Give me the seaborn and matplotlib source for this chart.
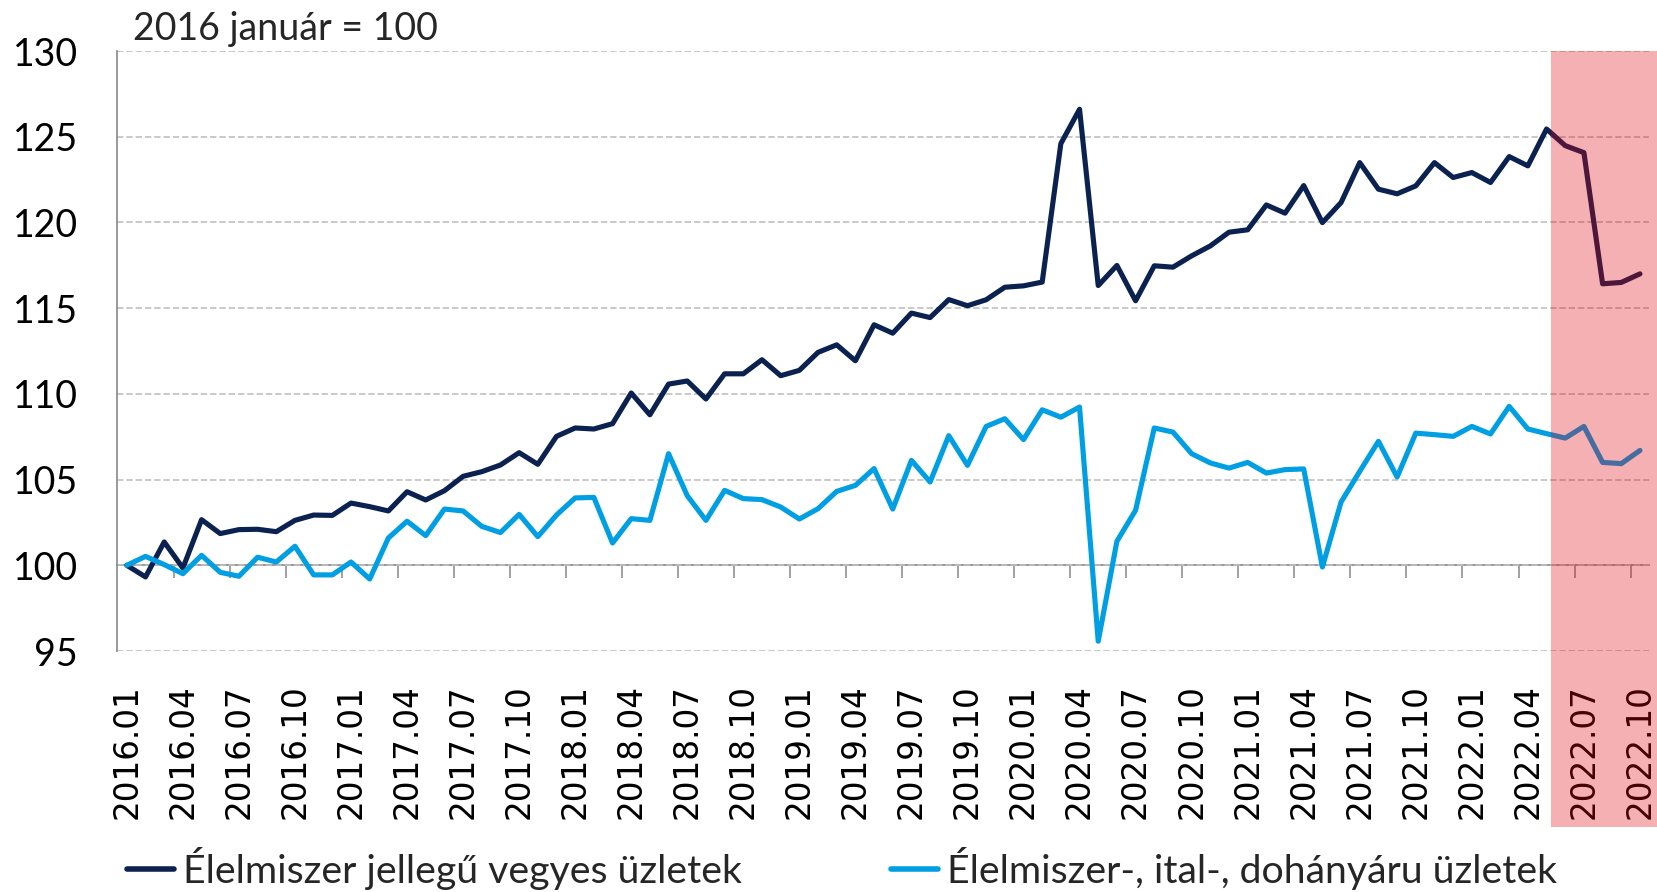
import numpy as np
import pandas as pd
import matplotlib
matplotlib.use("Agg")
import matplotlib.pyplot as plt
import seaborn as sns
from matplotlib.patches import Rectangle
from matplotlib.lines import Line2D

# ---------------- data ----------------
months = [f"{y}.{m:02d}" for y in range(2016, 2023) for m in range(1, 13)][:82]

vegyes = [100.0, 99.32, 101.36, 99.84, 102.66, 101.85, 102.08, 102.10, 101.96, 102.62,
          102.93, 102.91, 103.63, 103.42, 103.17, 104.29, 103.81, 104.35, 105.19, 105.46,
          105.85, 106.57, 105.89, 107.52, 108.01, 107.95, 108.26, 110.05, 108.78, 110.57,
          110.75, 109.70, 111.17, 111.17, 111.99, 111.06, 111.37, 112.42, 112.86, 111.93,
          114.03, 113.54, 114.71, 114.45, 115.50, 115.14, 115.49, 116.22, 116.30, 116.52,
          124.60, 126.60, 116.32, 117.49, 115.43, 117.47, 117.39, 118.05, 118.63, 119.43,
          119.57, 121.02, 120.54, 122.15, 119.99, 121.16, 123.49, 121.94, 121.67, 122.13,
          123.49, 122.62, 122.91, 122.33, 123.84, 123.30, 125.45, 124.48, 124.07, 116.42,
          116.50, 117.00]

elelmiszer = [100.0, 100.52, 100.04, 99.51, 100.58, 99.59, 99.36, 100.47, 100.19, 101.11,
              99.44, 99.44, 100.19, 99.20, 101.59, 102.57, 101.73, 103.28, 103.17, 102.27,
              101.91, 102.97, 101.67, 102.93, 103.93, 103.96, 101.30, 102.72, 102.62, 106.51,
              104.06, 102.62, 104.37, 103.89, 103.83, 103.40, 102.70, 103.30, 104.31, 104.66,
              105.64, 103.28, 106.12, 104.86, 107.56, 105.83, 108.10, 108.55, 107.33, 109.07,
              108.64, 109.23, 95.57, 101.40, 103.21, 108.01, 107.77, 106.51, 105.97, 105.67,
              106.00, 105.38, 105.58, 105.62, 99.90, 103.69, 105.48, 107.23, 105.15, 107.71,
              107.62, 107.52, 108.10, 107.66, 109.27, 107.95, 107.68, 107.42, 108.10, 106.00,
              105.93, 106.70]

series_names = ["Élelmiszer jellegű vegyes üzletek", "Élelmiszer-, ital-, dohányáru üzletek"]
series_colors = ["#0B2250", "#009FE3"]
y_ticks = [95, 100, 105, 110, 115, 120, 125, 130]
title_text = "2016 január = 100"
highlight_start = 76.23   # shaded period (from 2022.06)

# ---------------- figure ----------------
sns.set_style("white")
plt.rcParams["font.family"] = ["Lato", "DejaVu Sans"]
plt.rcParams["lines.scale_dashes"] = False

W, H = 1658, 892
fig = plt.figure(figsize=(W / 100, H / 100), dpi=100)
ax = fig.add_axes([117.5 / W, 1 - 651 / H, (1649.3 - 117.5) / W, 600 / H])

n = len(months)
idx = np.arange(n)
df = pd.DataFrame({
    "idx": np.concatenate([idx, idx]),
    "value": np.concatenate([vegyes, elelmiszer]),
    "series": [series_names[0]] * n + [series_names[1]] * n,
})

sns.lineplot(data=df, x="idx", y="value", hue="series", hue_order=series_names,
             palette=series_colors, linewidth=3.7, ax=ax, legend=False, zorder=3,
             solid_joinstyle="round", solid_capstyle="round")

ymin, ymax = y_ticks[0], y_ticks[-1]
ax.set_xlim(-0.5, n - 0.5)
ax.set_ylim(ymin, ymax)
ax.set_xlabel("")
ax.set_ylabel("")

# y axis
gray = "#878787"
ax.set_yticks(y_ticks)
ax.set_yticklabels([str(v) for v in y_ticks], fontsize=27, color="black")
ax.tick_params(axis="y", direction="out", length=9.4, width=1.1, color=gray, pad=19)
ax.yaxis.grid(True, linestyle=(0, (4.6, 2.1)), color="#C0C0C0", linewidth=1.2)
ax.set_axisbelow(True)
for s in ["top", "right", "bottom"]:
    ax.spines[s].set_visible(False)
ax.spines["left"].set_color(gray)
ax.spines["left"].set_linewidth(1.2)

# x labels at bottom (low position)
lab_pos = idx[::3]
ax.set_xticks(lab_pos)
ax.set_xticklabels([months[i] for i in lab_pos], rotation=90, fontsize=23.5,
                   family="DejaVu Sans", color="black")
ax.tick_params(axis="x", length=0, pad=24)

# category axis crossing at 100 with tick marks between categories
sec = ax.secondary_xaxis((100 - ymin) / (ymax - ymin))
sec.set_xticks(np.arange(2.5, n - 1, 3))
sec.tick_params(axis="x", direction="out", length=9.2, width=1.1, color=gray,
                labelbottom=False, labeltop=False)
sec.spines["bottom"].set_color(gray)
sec.spines["bottom"].set_linewidth(1.2)

# title
fig.text(133 / W, 1 - 40 / H, title_text, fontsize=27, va="baseline", ha="left")

# legend
handles = [Line2D([0], [0], color=c, lw=4.0, solid_capstyle="round") for c in series_colors]
fig.legend(handles, series_names, loc="lower left", bbox_to_anchor=(127 / W, 0.002),
           ncol=2, frameon=False, fontsize=28.3, handlelength=1.2, handletextpad=0.23,
           columnspacing=3.78, borderpad=0, borderaxespad=0)

# highlighted period overlay
x0_disp, y_top_disp = ax.transData.transform((highlight_start, ymax))
x0_fig, y_top_fig = fig.transFigure.inverted().transform((x0_disp, y_top_disp))
y_bot_fig = 1 - 827 / H
rect = Rectangle((x0_fig, y_bot_fig), 1.0 - x0_fig, y_top_fig - y_bot_fig,
                 transform=fig.transFigure, facecolor="#E0000D", alpha=0.31,
                 edgecolor="none", zorder=10)
fig.add_artist(rect)

fig.savefig("out.png", dpi=100)
